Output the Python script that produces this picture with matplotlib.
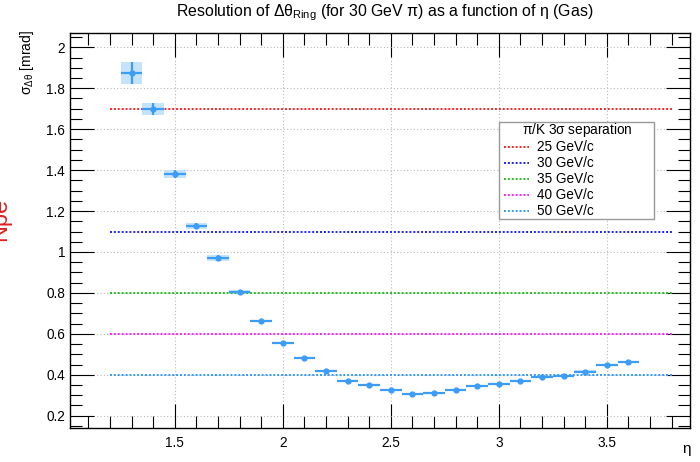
import matplotlib
matplotlib.use("Agg")
import matplotlib.pyplot as plt
from matplotlib.patches import Rectangle
from matplotlib.lines import Line2D
from matplotlib.ticker import MultipleLocator

plt.rcParams['font.family'] = ['Liberation Sans', 'DejaVu Sans']
plt.rcParams['mathtext.fontset'] = 'custom'
plt.rcParams['mathtext.rm'] = 'Liberation Sans'
plt.rcParams['mathtext.it'] = 'Liberation Sans'

# resolution vs eta
eta = [1.3, 1.4, 1.5, 1.6, 1.7, 1.8, 1.9, 2.0, 2.1, 2.2, 2.3, 2.4, 2.5,
       2.6, 2.7, 2.8, 2.9, 3.0, 3.1, 3.2, 3.3, 3.4, 3.5, 3.6]
sigma = [1.875, 1.700, 1.382, 1.127, 0.971, 0.805, 0.663, 0.555, 0.484,
         0.420, 0.372, 0.351, 0.328, 0.306, 0.309, 0.327, 0.343, 0.356,
         0.372, 0.389, 0.394, 0.416, 0.450, 0.463]
sigma_err = [0.053, 0.030, 0.020, 0.015, 0.013, 0.010, 0.006, 0.005, 0.005,
             0.005, 0.004, 0.004, 0.004, 0.004, 0.004, 0.004, 0.004, 0.004,
             0.004, 0.004, 0.004, 0.005, 0.005, 0.005]
bin_half = 0.05

# pi/K 3 sigma separation thresholds
sep_labels = ['25 GeV/c', '30 GeV/c', '35 GeV/c', '40 GeV/c', '50 GeV/c']
sep_values = [1.7, 1.1, 0.8, 0.6, 0.4]
sep_colors = ['#ff2020', '#2020ff', '#22c022', '#ff20ff', '#3399ff']
line_start, line_end = 1.2, 3.8

pt_color = '#3d9cf5'
box_color = '#b8dcfc'

W, H = 700, 462
fig = plt.figure(figsize=(7, 4.62), dpi=100)
ax = fig.add_axes([70 / W, 1 - 428 / H, 620 / W, 395 / H])

for x, y, e in zip(eta, sigma, sigma_err):
    ax.add_patch(Rectangle((x - bin_half, y - e), 2 * bin_half, 2 * e,
                           facecolor=box_color, edgecolor='none', alpha=0.8, zorder=2))

for v, c in zip(sep_values, sep_colors):
    ax.plot([line_start, line_end], [v, v], color=c, lw=1.4,
            linestyle=(0, (1, 1)), zorder=3)

ax.errorbar(eta, sigma, xerr=bin_half, yerr=sigma_err, fmt='o', ms=3.5,
            color=pt_color, ecolor=pt_color, elinewidth=1.6, capsize=0, zorder=4)

ax.set_xlim(1.015, 3.885)
ax.set_ylim(0.14, 2.07)
ax.xaxis.set_minor_locator(MultipleLocator(0.1))
ax.yaxis.set_minor_locator(MultipleLocator(0.05))
ax.set_xticks([1.5, 2, 2.5, 3, 3.5])
ax.set_xticklabels(['1.5', '2', '2.5', '3', '3.5'])
ax.set_yticks([0.2, 0.4, 0.6, 0.8, 1.0, 1.2, 1.4, 1.6, 1.8, 2.0])
ax.set_yticklabels(['0.2', '0.4', '0.6', '0.8', '1', '1.2', '1.4', '1.6', '1.8', '2'])
ax.tick_params(which='both', direction='in', top=True, right=True, labelsize=9.8)
ax.tick_params(which='major', length=17, width=0.8)
ax.tick_params(which='minor', length=8.5, width=0.8)
ax.tick_params(axis='x', pad=6)
ax.grid(True, which='major', color='#b8b8b8', linestyle=(0, (1, 2)), lw=0.8)
for s in ax.spines.values():
    s.set_linewidth(1.0)

fig.text(0.549, 0.972, r'Resolution of $\Delta\theta_{\mathrm{Ring}}$ (for 30 GeV $\pi$) as a function of $\eta$ (Gas)',
         ha='center', va='center', fontsize=11.4)
fig.text(0.039, 0.935, r'$\sigma_{\Delta\theta}$ [mrad]', rotation=90, ha='center', va='top', fontsize=10)
fig.text(687 / W, 1 - 450 / H, r'$\eta$', ha='center', va='center', fontsize=11)
fig.text(0.0, 1 - 219 / H, 'Npe', rotation=90, color='#e02020', ha='center', va='center', fontsize=17)

# legend drawn by hand in figure pixels
lx0, lx1, ly0, ly1 = 499, 654, 122, 219
fig.patches.append(Rectangle((lx0 / W, 1 - ly1 / H), (lx1 - lx0) / W, (ly1 - ly0) / H,
                             transform=fig.transFigure, facecolor='white',
                             edgecolor='#9a9a9a', lw=1.0, zorder=5))
fig.text(577 / W, 1 - 130 / H, r'$\pi$/K 3$\sigma$ separation', ha='center', va='center',
         fontsize=9.8, zorder=6)
entry_y = [146.7, 162.7, 179, 195, 210.7]
for lab, c, yy in zip(sep_labels, sep_colors, entry_y):
    fig.lines.append(Line2D([504 / W, 529 / W], [1 - yy / H, 1 - yy / H], transform=fig.transFigure,
                            color=c, lw=1.4, linestyle=(0, (1, 1)), zorder=6))
    fig.text(537 / W, 1 - yy / H, lab, ha='left', va='center', fontsize=9.8, zorder=6)

fig.savefig('out.png', dpi=100)
